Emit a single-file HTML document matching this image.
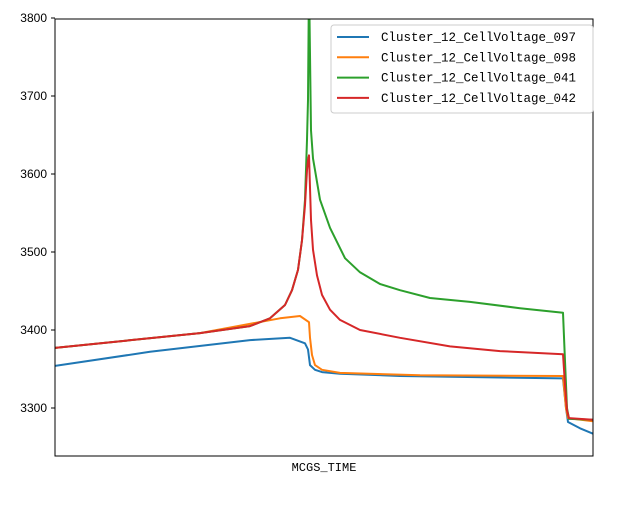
<!DOCTYPE html>
<html><head><meta charset="utf-8"><style>
body{margin:0;background:#fff;}
svg text{font-family:"Liberation Sans",sans-serif;}
</style></head><body>
<svg id="chart" width="634" height="500" xmlns="http://www.w3.org/2000/svg">
<rect x="0" y="0" width="634" height="500" fill="#fff"/>
<defs><clipPath id="clip"><rect x="55" y="19" width="538" height="437"/></clipPath></defs>
<g id="series" clip-path="url(#clip)"></g>
<rect x="55" y="19" width="538" height="437" fill="none" stroke="#000" stroke-width="1"/>
<g id="yticks"></g>
<text x="324" y="471" text-anchor="middle" font-size="12" style="font-family:'Liberation Mono',monospace">MCGS_TIME</text>
<g id="legend">
<rect x="331" y="25" width="262" height="88" rx="3" fill="#fff" fill-opacity="0.8" stroke="#ccc"/>
</g>
</svg>
<script>
const NS="http://www.w3.org/2000/svg";
const yTicks=[3300,3400,3500,3600,3700,3800];
const seriesNames=["Cluster_12_CellVoltage_097","Cluster_12_CellVoltage_098","Cluster_12_CellVoltage_041","Cluster_12_CellVoltage_042"];
const colors=["#1f77b4","#ff7f0e","#2ca02c","#d62728"];
const tBlue=[0,95,195,235,250,253,255,260,267,285,345,508,511,513,525,538];
const vBlue=[3354,3372,3387,3390,3383,3375,3355,3349,3346,3344,3341,3338,3300,3282,3274,3267];
const tOrange=[0,145,225,245,254,255,257,260,267,285,365,508,511,513,538];
const vOrange=[3377,3396,3415,3418,3410,3390,3368,3355,3349,3345,3342,3341,3300,3287,3283];
const tGreen=[0,145,195,215,230,237,243,247,250,252,253,254,256,258,260,265,275,290,305,325,345,375,415,465,508,510,512,514,538];
const vGreen=[3377,3396,3405,3415,3432,3451,3477,3515,3567,3644,3695,3850,3656,3620,3605,3567,3531,3492,3474,3459,3451,3441,3436,3428,3422,3360,3300,3286,3285];
const tRed=[0,145,195,215,230,237,243,247,250,252,253,254,256,258,262,267,275,285,305,345,395,445,508,510,512,514,538];
const vRed=[3377,3396,3405,3415,3432,3451,3477,3515,3560,3605,3618,3624,3541,3503,3470,3445,3426,3413,3400,3390,3379,3373,3369,3330,3297,3287,3285];
const tData=[tBlue,tOrange,tGreen,tRed];
const vData=[vBlue,vOrange,vGreen,vRed];
const X0=55,XW=538,TMAX=538;
function xs(t){return X0+t/TMAX*XW;}
function ys(v){return 408-(v-3300)*0.78;}
const g=document.getElementById('series');
const keys=["blue-097","orange-098","green-041","red-042"];
for(let i=0;i<4;i++){
  const p=document.createElementNS(NS,'polyline');
  p.setAttribute('points',tData[i].map((t,j)=>xs(t).toFixed(1)+','+ys(vData[i][j]).toFixed(1)).join(' '));
  p.setAttribute('fill','none');p.setAttribute('stroke',colors[i]);p.setAttribute('stroke-width','2');
  p.setAttribute('stroke-linejoin','round');
  
  
  g.appendChild(p);
}
const yt=document.getElementById('yticks');
yTicks.forEach(v=>{
  const l=document.createElementNS(NS,'line');
  l.setAttribute('x1',51);l.setAttribute('x2',55);l.setAttribute('y1',ys(v));l.setAttribute('y2',ys(v));l.setAttribute('stroke','#000');
  
  
  yt.appendChild(l);
  const t=document.createElementNS(NS,'text');
  t.setAttribute('x',47);t.setAttribute('y',ys(v)+4);t.setAttribute('text-anchor','end');t.setAttribute('font-size','12');
  t.textContent=v;
  
  
  yt.appendChild(t);
});
const lg=document.getElementById('legend');
for(let i=0;i<4;i++){
  const y=37+i*20.3;
  const l=document.createElementNS(NS,'line');
  l.setAttribute('x1',337);l.setAttribute('x2',369);l.setAttribute('y1',y);l.setAttribute('y2',y);
  l.setAttribute('stroke',colors[i]);l.setAttribute('stroke-width','2');
  
  
  lg.appendChild(l);
  const t=document.createElementNS(NS,'text');
  t.setAttribute('x',381);t.setAttribute('y',y+4);t.setAttribute('font-size','12.5');
  t.setAttribute('style',"font-family:'Liberation Mono',monospace");
  t.textContent=seriesNames[i];
  
  
  lg.appendChild(t);
}
</script>
</body></html>
